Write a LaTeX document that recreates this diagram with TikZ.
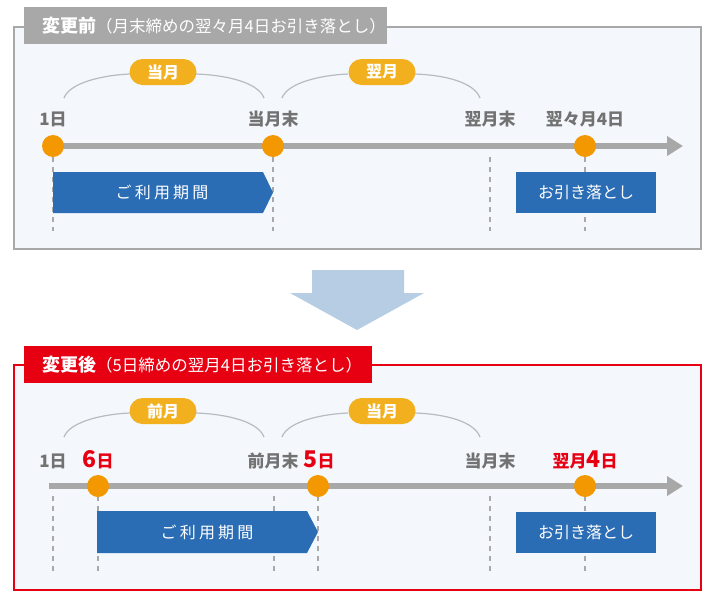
\documentclass[tikz,border=0pt]{standalone}
\usepackage{fontspec}
\setmainfont{Noto Sans CJK JP}
\usetikzlibrary{arrows.meta}
\definecolor{panelbg}{HTML}{F4F8FC}
\definecolor{panelgray}{HTML}{A8A8A8}
\definecolor{panelred}{HTML}{E60012}
\definecolor{pillyel}{HTML}{F2B01E}
\definecolor{dotor}{HTML}{F39800}
\definecolor{boxblue}{HTML}{2B6DB5}
\definecolor{lblgray}{HTML}{727272}
\definecolor{arcgray}{HTML}{B8BCC0}
\definecolor{arrowblue}{HTML}{B6CDE4}
\tikzset{
  pill/.style={rounded corners=13pt, fill=pillyel, text=white, minimum width=67pt, minimum height=26pt, inner sep=0pt, font=\fontsize{16}{16}\selectfont\bfseries},
  arcline/.style={draw=arcgray, line width=1.2pt},
  tline/.style={draw=panelgray, line width=6pt, -{Triangle[length=16pt,width=19pt]}},
  dot/.style={circle, fill=dotor, minimum size=22pt, inner sep=0pt},
  dashline/.style={draw=panelgray, line width=2pt, dash pattern=on 5pt off 5pt},
  lbl/.style={anchor=base, text=lblgray, inner sep=0pt, font=\fontsize{17}{17}\selectfont\bfseries},
  rlbl/.style={anchor=base, text=panelred, inner sep=0pt, font=\fontsize{17}{17}\selectfont\bfseries},
  boxtext/.style={text=white, inner sep=0pt, font=\fontsize{16}{16}\selectfont},
  titletext/.style={anchor=west, text=white, inner sep=0pt},
}
\newcommand{\bignum}[1]{{\fontsize{23}{23}\selectfont #1}}
\begin{document}
\begin{tikzpicture}[x=1pt,y=-1pt]
\useasboundingbox (0,0) rectangle (715,600);
\fill[white] (0,0) rectangle (715,600);

% ===== top panel =====
\draw[draw=panelgray, line width=2.5pt, fill=panelbg] (14,27) rectangle (701,249);
\fill[panelgray] (24,7) rectangle (387,44);
\node[titletext] (t1) at (42,26) {\fontsize{18}{18}\selectfont\bfseries 変更前\fontsize{16.5}{16.5}\selectfont\mdseries（月末締めの翌々月4日お引き落とし）};

% arcs
\coordinate (a1l) at (64,98);  \coordinate (a1r) at (264,98);
\coordinate (a2l) at (282,98); \coordinate (a2r) at (480,98);
\draw[arcline] (a1l) .. controls (70,82) and (105,75) .. (130,74);
\draw[arcline] (196,74) .. controls (225,75) and (258,82) .. (a1r);
\draw[arcline] (a2l) .. controls (288,82) and (323,75) .. (348,74);
\draw[arcline] (415,74) .. controls (444,75) and (474,82) .. (a2r);
\node[pill] (p1) at (163,72) {当月};
\node[pill] (p2) at (382,72) {翌月};

% labels
\node[lbl] (l1) at (53,125) {1日};
\node[lbl] (l2) at (273,125) {当月末};
\node[lbl] (l3) at (490,125) {翌月末};
\node[lbl] (l4) at (585,125) {翌々月4日};

% dashed
\coordinate (d1a) at (53,157);  \coordinate (d1b) at (53,231);
\coordinate (d2a) at (273,157); \coordinate (d2b) at (273,231);
\coordinate (d3a) at (490,157); \coordinate (d3b) at (490,231);
\coordinate (d4a) at (585,157); \coordinate (d4b) at (585,231);
\draw[dashline] (d1a) -- (d1b);
\draw[dashline] (d2a) -- (d2b);
\draw[dashline] (d3a) -- (d3b);
\draw[dashline] (d4a) -- (d4b);

% timeline
\coordinate (ts) at (53,146); \coordinate (te) at (683,146);
\draw[tline] (ts) -- (te);
\node[dot] (c1) at (53,146) {};
\node[dot] (c2) at (273,146) {};
\node[dot] (c3) at (585,146) {};

% boxes
\fill[boxblue] (53,172) -- (263,172) -- (273,192.5) -- (263,213) -- (53,213) -- cycle;
\node[boxtext] (b1) at (162,192.5) {\addfontfeature{LetterSpace=20}ご利用期間};
\fill[boxblue] (516,172) rectangle (656,213);
\node[boxtext] (b2) at (586,192.5) {お引き落とし};

% ===== down arrow =====
\fill[arrowblue] (312,270) -- (404,270) -- (404,293) -- (424,293) -- (357,330) -- (290,293) -- (312,293) -- cycle;

% ===== bottom panel =====
\draw[draw=panelred, line width=2.5pt, fill=panelbg] (14,365) rectangle (701,590);
\fill[panelred] (24,346) rectangle (372,383);
\node[titletext] (t2) at (42,365) {\fontsize{18}{18}\selectfont\bfseries 変更後\fontsize{16.5}{16.5}\selectfont\mdseries（5日締めの翌月4日お引き落とし）};

\coordinate (a3l) at (64,437);  \coordinate (a3r) at (264,437);
\coordinate (a4l) at (282,437); \coordinate (a4r) at (480,437);
\draw[arcline] (a3l) .. controls (70,421) and (105,414) .. (130,413);
\draw[arcline] (196,413) .. controls (225,414) and (258,421) .. (a3r);
\draw[arcline] (a4l) .. controls (288,421) and (323,414) .. (348,413);
\draw[arcline] (415,413) .. controls (444,414) and (474,421) .. (a4r);
\node[pill] (p3) at (163,411) {前月};
\node[pill] (p4) at (382,411) {当月};

\node[lbl] (l5) at (53,467) {1日};
\node[rlbl] (l6) at (98,467) {\bignum{6}日};
\node[lbl] (l7) at (273,467) {前月末};
\node[rlbl] (l8) at (319,467) {\bignum{5}日};
\node[lbl] (l9) at (490,467) {当月末};
\node[rlbl] (l10) at (585,467) {翌月\bignum{4}日};

\coordinate (e1a) at (53,496);  \coordinate (e1b) at (53,571);
\coordinate (e2a) at (98,496);  \coordinate (e2b) at (98,571);
\coordinate (e3a) at (274,496); \coordinate (e3b) at (274,571);
\coordinate (e4a) at (318,496); \coordinate (e4b) at (318,571);
\coordinate (e5a) at (490,496); \coordinate (e5b) at (490,571);
\coordinate (e6a) at (585,496); \coordinate (e6b) at (585,571);
\draw[dashline] (e1a) -- (e1b);
\draw[dashline] (e2a) -- (e2b);
\draw[dashline] (e3a) -- (e3b);
\draw[dashline] (e4a) -- (e4b);
\draw[dashline] (e5a) -- (e5b);
\draw[dashline] (e6a) -- (e6b);

\coordinate (us) at (49,486); \coordinate (ue) at (683,486);
\draw[tline] (us) -- (ue);
\node[dot] (c4) at (98,486) {};
\node[dot] (c5) at (318,486) {};
\node[dot] (c6) at (585,486) {};

\fill[boxblue] (97,511) -- (307,511) -- (318,532) -- (307,553) -- (97,553) -- cycle;
\node[boxtext] (b3) at (207,532) {\addfontfeature{LetterSpace=20}ご利用期間};
\fill[boxblue] (516,512) rectangle (656,553);
\node[boxtext] (b4) at (586,532.5) {お引き落とし};
\end{tikzpicture}
\end{document}
